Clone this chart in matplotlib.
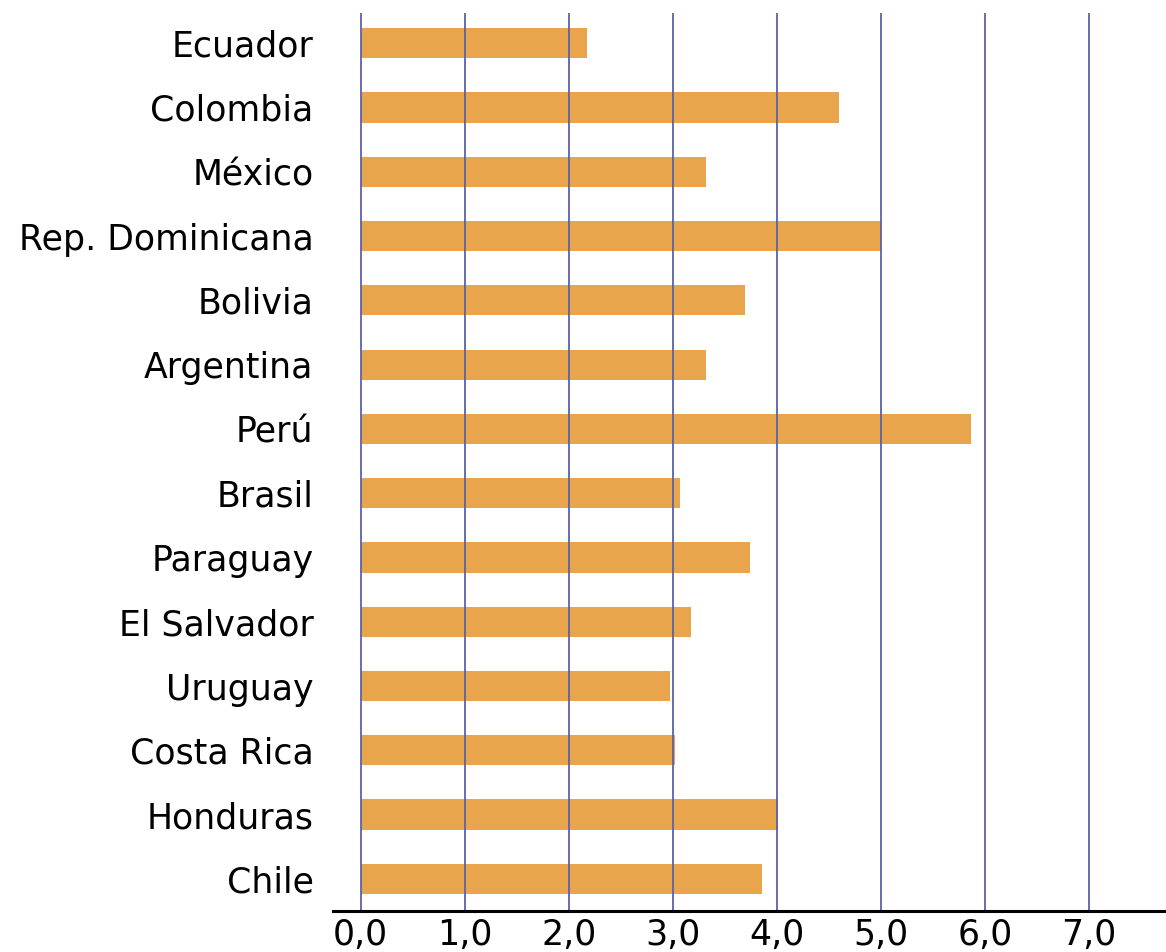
import matplotlib.pyplot as plt

paises = ["Ecuador", "Colombia", "México", "Rep. Dominicana", "Bolivia",
          "Argentina", "Perú", "Brasil", "Paraguay", "El Salvador",
          "Uruguay", "Costa Rica", "Honduras", "Chile"]
valores = [2.18, 4.60, 3.32, 5.00, 3.69, 3.32, 5.87, 3.07, 3.74, 3.17,
           2.97, 3.02, 4.01, 3.86]
ticks = [0, 1, 2, 3, 4, 5, 6, 7]
tick_labels = ["0,0", "1,0", "2,0", "3,0", "4,0", "5,0", "6,0", "7,0"]

plt.rcParams['font.family'] = ['DejaVu Sans']

fig = plt.figure(figsize=(11.66, 9.52), dpi=100)
ax = fig.add_axes([333 / 1166, 41 / 952, 1 - 333 / 1166, (911 - 13) / 952])

# Ecuador on top, Chile at the bottom
pos = list(range(len(paises) - 1, -1, -1))
ax.barh(pos, valores, height=0.47, color="#E8A54C", zorder=1)
# vertical lines drawn over the bars
for t in ticks:
    ax.axvline(t, color="#5A62A6", linewidth=1.3, zorder=2)

ax.set_xlim(-0.266, 7.74)
ax.set_ylim(-0.5, 13.47)
ax.set_yticks(pos)
ax.set_yticklabels(paises, fontsize=25)
ax.set_xticks(ticks)
ax.set_xticklabels(tick_labels, fontsize=25)
ax.tick_params(axis="both", length=0)
ax.tick_params(axis="y", pad=14)
ax.tick_params(axis="x", pad=5)

for s in ["top", "right", "left"]:
    ax.spines[s].set_visible(False)
ax.spines["bottom"].set_linewidth(2.2)
ax.spines["bottom"].set_color("black")

fig.savefig("out.png", dpi=100)
